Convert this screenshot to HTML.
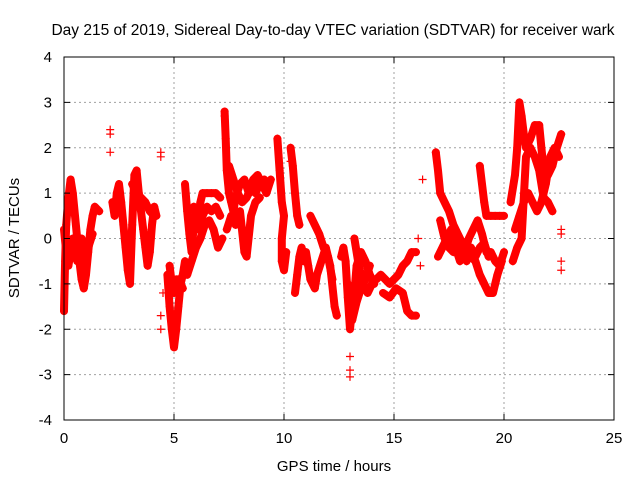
<!DOCTYPE html>
<html><head><meta charset="utf-8"><style>
html,body{margin:0;padding:0;background:#fff;}
svg{display:block;font-family:"Liberation Sans",sans-serif;}
</style></head><body>
<svg id="chart" width="640" height="480">
<text x="333" y="35" text-anchor="middle" font-size="15.5">Day 215 of 2019, Sidereal Day-to-day VTEC variation (SDTVAR) for receiver wark</text>
<text x="334" y="471" text-anchor="middle" font-size="15">GPS time / hours</text>
<text transform="translate(19,238) rotate(-90)" text-anchor="middle" font-size="15">SDTVAR / TECUs</text>
<g id="grid"></g>
<g id="marks"></g>
<rect x="64" y="57" width="550" height="363" fill="none" stroke="#000" stroke-width="1"/>
<g id="ticks"></g>
</svg>
<script>
const xTicks=[0,5,10,15,20,25];
const yTicks=[-4,-3,-2,-1,0,1,2,3,4];
const traceA=[[0,-1.6],[0.05,-0.5],[0.1,0.3],[0.2,0.9],[0.3,1.3],[0.4,1.0],[0.5,0.5],[0.6,0],[0.7,-0.5],[0.8,-0.9],[0.9,-1.1],[1.0,-0.8],[1.1,-0.3],[1.2,0.2],[1.3,0.5],[1.4,0.7],[1.6,0.6]];
const traceB=[[0,0.2],[0.1,-0.3],[0.2,-0.6],[0.3,-0.3],[0.4,0],[0.5,-0.2],[0.6,-0.5],[0.7,-0.2],[0.8,0],[0.9,-0.3],[1.0,-0.5],[1.1,-0.2],[1.3,0.1]];
const traceC=[[2.2,0.8],[2.3,0.5],[2.4,1.0],[2.5,1.2],[2.6,0.8],[2.7,0.3],[2.8,-0.2],[2.9,-0.7],[3.0,-1.0],[3.1,0.3],[3.2,1.4],[3.3,1.5],[3.4,1.0],[3.5,0.6],[3.6,0.2],[3.7,-0.2],[3.8,-0.6],[3.9,-0.3],[4.0,0.3],[4.1,0.7],[4.2,0.5]];
const traceC2=[[3.1,1.2],[3.3,1.0],[3.5,0.9],[3.7,0.8],[3.9,0.6],[4.1,0.5]];
const traceE=[[4.7,-0.8],[4.8,-1.5],[4.9,-2.0],[5.0,-2.4],[5.1,-2.0],[5.2,-1.5],[5.3,-1.0],[5.4,-0.8],[5.5,-0.5]];
const traceE2=[[4.8,-0.6],[4.9,-1.0],[5.0,-1.2],[5.1,-0.9],[5.2,-0.9],[5.4,-1.1]];
const traceF=[[5.5,1.2],[5.6,0.6],[5.7,0.1],[5.8,-0.3],[5.9,0.3],[6.0,0.6],[6.1,0.5],[6.2,0.8],[6.3,1.0],[6.5,1.0],[6.7,1.0],[6.9,1.0],[7.1,0.9]];
const traceF2=[[5.6,-0.8],[5.8,-0.5],[6.0,-0.2],[6.2,0.0],[6.4,0.3],[6.6,0.4],[6.8,0.2],[7.0,-0.2],[7.2,0.0]];
const traceF3=[[5.9,0.7],[6.1,0.2],[6.3,0.5],[6.5,0.7],[6.7,0.6],[6.9,0.7],[7.1,0.5]];
const traceG=[[7.3,2.8],[7.35,2.2],[7.4,1.5],[7.5,1.0],[7.6,0.8],[7.7,0.6],[7.8,0.9],[8.0,1.2],[8.2,1.3],[8.4,1.0],[8.6,1.3],[8.8,1.4],[9.0,1.2],[9.2,1.0],[9.4,1.3]];
const traceG2=[[7.4,0.2],[7.6,0.5],[7.8,0.3],[8.0,0.6],[8.2,-0.3],[8.3,-0.4],[8.5,0.5],[8.7,0.8],[8.9,0.9]];
const traceG3=[[7.5,1.6],[7.7,1.3],[7.9,1.0],[8.1,0.8],[8.3,0.9],[8.5,1.1],[8.7,1.0],[8.9,1.2],[9.1,1.3]];
const traceH=[[9.7,2.2],[9.8,1.5],[9.9,0.8],[10.0,0.5],[9.9,0.0],[9.9,-0.5],[10.0,-0.7],[10.1,-0.3]];
const traceH2=[[10.3,2.0],[10.4,1.6],[10.5,1.0],[10.6,0.5],[10.7,0.3]];
const traceI=[[10.5,-1.2],[10.6,-0.8],[10.7,-0.4],[10.8,-0.2],[10.9,-0.5],[11.0,-0.3],[11.1,-0.6],[11.2,-0.9],[11.4,-1.1],[11.5,-0.8],[11.7,-0.5],[11.9,-0.2],[12.1,-0.6],[12.3,-1.5],[12.4,-1.7]];
const traceI2=[[11.2,0.5],[11.4,0.3],[11.6,0.1],[11.8,-0.2],[12.0,-0.4],[12.2,-0.9]];
const traceJ=[[12.6,-0.4],[12.7,-0.2],[12.8,-0.5],[12.9,-1.3],[13.0,-2.0],[13.1,-1.5],[13.2,-1.2],[13.3,-0.6],[13.5,-0.3],[13.7,-0.5],[13.9,-0.8],[14.1,-1.0]];
const traceJ2=[[13.2,0],[13.4,-0.6],[13.6,-1.0],[13.8,-1.2],[14.0,-1.0]];
const traceJ3=[[12.9,-1.0],[13.1,-1.8],[13.3,-1.4],[13.5,-1.1],[13.7,-0.9],[13.9,-0.6]];
const traceK=[[14.2,-0.9],[14.4,-0.8],[14.6,-0.9],[14.8,-1.0],[15.0,-0.9],[15.2,-0.8],[15.4,-0.6],[15.6,-0.5],[15.8,-0.3],[16.0,-0.3]];
const traceK2=[[14.5,-1.2],[14.8,-1.3],[15.1,-1.1],[15.4,-1.2],[15.6,-1.6],[15.8,-1.7],[16.0,-1.7]];
const traceM=[[16.9,1.9],[17.0,1.5],[17.1,1.0],[17.3,0.8],[17.5,0.6],[17.7,0.3],[17.9,0.1],[18.1,-0.1],[18.3,-0.3],[18.5,-0.4],[18.7,-0.5],[18.9,-0.8],[19.1,-1.0],[19.3,-1.2],[19.5,-1.2],[19.7,-0.8],[19.9,-0.5]];
const traceM2=[[17.1,0.4],[17.3,0.0],[17.5,-0.2],[17.7,-0.3],[17.9,-0.3],[18.1,-0.2],[18.3,-0.5],[18.5,-0.2],[18.7,-0.4],[18.9,-0.2],[19.1,-0.1],[19.3,-0.4]];
const traceN=[[17.0,-0.4],[17.2,-0.2],[17.4,0],[17.6,0.2],[17.8,-0.2],[18.0,-0.5],[18.2,-0.3],[18.4,0],[18.6,0.2],[18.8,0.4],[19.0,0.1],[19.2,-0.3],[19.4,-0.3],[19.6,-0.5],[19.8,-0.6],[20.0,-0.3]];
const traceO=[[18.9,1.6],[19.0,1.2],[19.1,0.8],[19.2,0.5],[19.4,0.5],[19.6,0.5],[19.8,0.5],[20.0,0.5]];
const traceP=[[20.3,0.8],[20.5,1.4],[20.6,2.0],[20.7,3.0],[20.8,2.7],[20.9,2.3],[21.0,2.0],[21.2,2.2],[21.4,2.5],[21.6,2.5],[21.7,2.0],[21.8,1.5],[22.0,1.4],[22.2,1.6],[22.4,2.0],[22.6,2.3]];
const traceQ=[[20.5,0.2],[20.7,0.5],[20.9,0.8],[21.1,1.0],[21.3,0.8],[21.5,0.6],[21.7,0.8],[21.9,1.2],[22.1,1.8],[22.3,2.0],[22.5,1.8]];
const traceR=[[20.4,-0.5],[20.6,-0.2],[20.8,0],[21.0,1.8],[21.2,2.0],[21.4,1.8],[21.6,1.5],[21.8,0.9],[22.0,0.8],[22.2,0.6]];
const isolated=[[2.1,2.4],[2.1,2.3],[2.1,1.9],[4.4,1.9],[4.4,1.8],[4.4,-1.7],[4.4,-2.0],[4.5,-1.2],[13.0,-2.9],[13.0,-3.05],[13.0,-2.6],[16.1,0],[16.2,-0.6],[16.3,1.3],[22.6,0.2],[22.6,0.1],[22.6,-0.5],[22.6,-0.7],[10.3,1.7],[7.3,2.7]];
const traces=[traceA,traceB,traceC,traceC2,traceE,traceE2,traceF,traceF2,traceF3,traceG,traceG2,traceG3,traceH,traceH2,traceI,traceI2,traceJ,traceJ2,traceJ3,traceK,traceK2,traceM,traceM2,traceN,traceO,traceP,traceQ,traceR];

const NS="http://www.w3.org/2000/svg";
const X0=64,X1=614,Y0=420,Y1=57;
function xs(v){return X0+(v-0)/(25-0)*(X1-X0);}
function ys(v){return Y0-(v+4)/8*(Y0-Y1);}
function mk(tag,attrs,parent){const e=document.createElementNS(NS,tag);for(const k in attrs)e.setAttribute(k,attrs[k]);parent.appendChild(e);return e;}
const grid=document.getElementById('grid'),ticks=document.getElementById('ticks'),marks=document.getElementById('marks');
xTicks.forEach(t=>{
  const x=xs(t);
  if(t>0&&t<25){const g=mk('line',{x1:x,x2:x,y1:Y1,y2:Y0,stroke:'#a0a0a0','stroke-dasharray':'2,3'},grid);
  
  }
  const a=mk('line',{x1:x,x2:x,y1:Y0,y2:Y0-6,stroke:'#000'},ticks);
  
  
  const b=mk('line',{x1:x,x2:x,y1:Y1,y2:Y1+6,stroke:'#000'},ticks);
  
  
  const l=mk('text',{x:x,y:443,'text-anchor':'middle','font-size':'15'},ticks);l.textContent=t;
  
  
});
yTicks.forEach(t=>{
  const y=ys(t);
  if(t>-4&&t<4){const g=mk('line',{x1:X0,x2:X1,y1:y,y2:y,stroke:'#a0a0a0','stroke-dasharray':'2,3'},grid);
  
  }
  const a=mk('line',{x1:X0,x2:X0+6,y1:y,y2:y,stroke:'#000'},ticks);
  
  
  const b=mk('line',{x1:X1,x2:X1-6,y1:y,y2:y,stroke:'#000'},ticks);
  
  
  const l=mk('text',{x:52,y:y+5,'text-anchor':'end','font-size':'15'},ticks);l.textContent=t;
  
  
});
function cross(v){
  const x=xs(v[0]),y=ys(v[1]);
  const p=mk('path',{d:`M${x-4} ${y}H${x+4}M${x} ${y-4}V${y+4}`,stroke:'#f00','stroke-width':'1.2',fill:'none'},marks);
  
  
}
traces.forEach(tr=>{
  const pl=mk('polyline',{points:tr.map(v=>xs(v[0])+','+ys(v[1])).join(' '),fill:'none',stroke:'#f00','stroke-width':'8','stroke-linejoin':'round','stroke-linecap':'round'},marks);
  
  
  tr.forEach(cross);
});
isolated.forEach(cross);
</script>
</body></html>
